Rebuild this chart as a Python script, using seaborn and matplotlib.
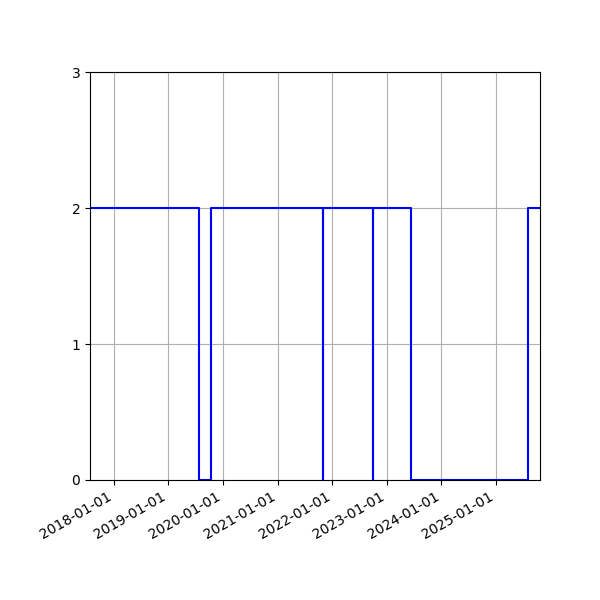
import matplotlib
matplotlib.use("Agg")
import matplotlib.pyplot as plt
import matplotlib.dates as mdates
import seaborn as sns
import pandas as pd

# state changes (step, post)
dates = ["2017-07-25", "2019-07-25", "2019-10-13", "2021-10-29", "2021-10-31",
         "2022-09-27", "2022-09-28", "2023-06-11", "2025-08-02", "2025-10-21"]
values = [2, 0, 2, 0, 2, 0, 2, 0, 2, 2]

df = pd.DataFrame({"date": pd.to_datetime(dates), "value": values})

fig = plt.figure(figsize=(6, 6), dpi=100)
ax = plt.gca()
sns.lineplot(data=df, x="date", y="value", drawstyle="steps-post",
             color="blue", linewidth=1.5, ax=ax)

ax.set_xlim(df["date"].iloc[0], df["date"].iloc[-1])
ax.set_ylim(0, 3)
ax.set_yticks([0, 1, 2, 3])
ax.xaxis.set_major_locator(mdates.YearLocator())
ax.xaxis.set_major_formatter(mdates.DateFormatter("%Y-%m-%d"))
ax.set_xlabel("")
ax.set_ylabel("")
ax.grid(True)

fig.autofmt_xdate()
plt.subplots_adjust(left=0.15, right=0.9, top=0.88, bottom=0.2)
plt.savefig("out.png")
